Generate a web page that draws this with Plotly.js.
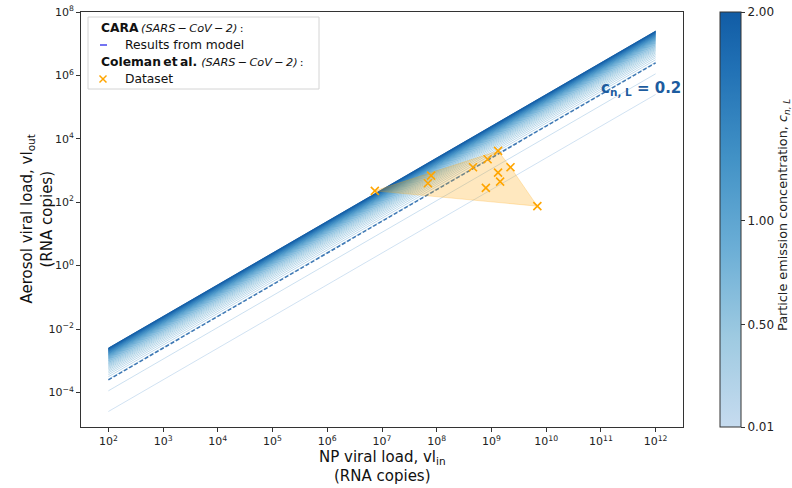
<!DOCTYPE html>
<html>
<head>
<meta charset="utf-8">
<script src="https://cdn.plot.ly/plotly-3.0.1.min.js"></script>
<style>html,body{margin:0;padding:0;background:#fff;}#chart{width:792px;height:488px;}</style>
</head>
<body>
<div id="chart"></div>
<script>
// ---- data ----
// NP viral load range of the model lines (RNA copies)
const npLoadRange = [1e2, 1e12];
// particle emission concentrations drawn as model lines
const cnLValues = [0.02, 0.09, 0.21, 0.25, 0.29, 0.33, 0.37, 0.41, 0.45, 0.49, 0.53, 0.57, 0.61, 0.65,
  0.69, 0.73, 0.77, 0.81, 0.85, 0.89, 0.93, 0.97, 1.01, 1.05, 1.09, 1.13, 1.17, 1.21, 1.25, 1.29,
  1.33, 1.37, 1.41, 1.45, 1.49, 1.53, 1.57, 1.61, 1.65, 1.69, 1.73, 1.77, 1.81, 1.85, 1.89, 1.93, 1.97, 2.0];
const cnLHighlight = 0.2;
// aerosol copies per NP copy per unit c_n,L (model constant)
const modelFactor = 1.25e-5;
// Coleman et al. dataset
const colemanNP = [7.4e6, 7.9e7, 6.9e7, 4.6e8, 8.5e8, 1.32e9, 2.23e9, 1.32e9, 1.44e9, 7.9e8, 6.9e9];
const colemanAerosol = [228, 690, 398, 1270, 2270, 4150, 1270, 860, 447, 283, 75];
// tick labels
const xTickVals = [1e2, 1e3, 1e4, 1e5, 1e6, 1e7, 1e8, 1e9, 1e10, 1e11, 1e12];
const xTickText = ['10<sup>2</sup>', '10<sup>3</sup>', '10<sup>4</sup>', '10<sup>5</sup>', '10<sup>6</sup>', '10<sup>7</sup>', '10<sup>8</sup>', '10<sup>9</sup>', '10<sup>10</sup>', '10<sup>11</sup>', '10<sup>12</sup>'];
const yTickVals = [1e-4, 1e-2, 1e0, 1e2, 1e4, 1e6, 1e8];
const yTickText = ['10<sup>\u22124</sup>', '10<sup>\u22122</sup>', '10<sup>0</sup>', '10<sup>2</sup>', '10<sup>4</sup>', '10<sup>6</sup>', '10<sup>8</sup>'];
const cbTickVals = [0.01, 0.5, 1.0, 2.0];
const cbTickText = ['0.01', '0.50', '1.00', '2.00'];

// ---- styling ----
const FONT = 'DejaVu Sans, sans-serif';
const cmin = 0.01, cmax = 2.0;
const stops = [
  [0, [198, 219, 239]],
  [0.2155, [158, 202, 225]],
  [0.431, [107, 174, 214]],
  [0.6466, [66, 146, 198]],
  [0.862, [33, 113, 181]],
  [1, [17, 92, 165]]
];
const colorscale = stops.map(s => [s[0], 'rgb(' + s[1].join(',') + ')']);
function colorFor(c) {
  let t = (c - cmin) / (cmax - cmin);
  t = Math.max(0, Math.min(1, t));
  for (let i = 1; i < stops.length; i++) {
    if (t <= stops[i][0]) {
      const a = stops[i - 1], b = stops[i];
      const f = (t - a[0]) / (b[0] - a[0]);
      const rgb = a[1].map((v, k) => Math.round(v + (b[1][k] - v) * f));
      return 'rgb(' + rgb.join(',') + ')';
    }
  }
  return 'rgb(' + stops[stops.length - 1][1].join(',') + ')';
}

const traces = [];
cnLValues.forEach(c => {
  traces.push({
    x: npLoadRange, y: npLoadRange.map(v => v * c * modelFactor),
    mode: 'lines', line: {color: colorFor(c), width: 0.8},
    showlegend: false, hoverinfo: 'skip'
  });
});
traces.push({
  x: npLoadRange, y: npLoadRange.map(v => v * cnLHighlight * modelFactor),
  mode: 'lines', line: {color: '#3f78b4', width: 1.5, dash: '4px,2px'},
  showlegend: false, hoverinfo: 'skip'
});

// convex hull of dataset (in log space)
function hull(xs, ys) {
  const pts = xs.map((x, i) => [Math.log10(x), Math.log10(ys[i]), i]).sort((a, b) => a[0] - b[0] || a[1] - b[1]);
  const cross = (o, a, b) => (a[0] - o[0]) * (b[1] - o[1]) - (a[1] - o[1]) * (b[0] - o[0]);
  const lower = [], upper = [];
  for (const p of pts) { while (lower.length >= 2 && cross(lower[lower.length - 2], lower[lower.length - 1], p) <= 0) lower.pop(); lower.push(p); }
  for (let i = pts.length - 1; i >= 0; i--) { const p = pts[i]; while (upper.length >= 2 && cross(upper[upper.length - 2], upper[upper.length - 1], p) <= 0) upper.pop(); upper.push(p); }
  upper.pop(); lower.pop();
  return lower.concat(upper).map(p => p[2]);
}
const h = hull(colemanNP, colemanAerosol);
h.push(h[0]);
traces.push({
  x: h.map(i => colemanNP[i]), y: h.map(i => colemanAerosol[i]),
  mode: 'lines', fill: 'toself', fillcolor: 'rgba(255,165,0,0.25)',
  line: {color: 'rgba(255,165,0,0.3)', width: 0.8},
  showlegend: false, hoverinfo: 'skip'
});
traces.push({
  x: colemanNP, y: colemanAerosol, mode: 'markers',
  marker: {symbol: 'x-thin', size: 8, color: '#FFA500', line: {color: '#FFA500', width: 1.6}},
  showlegend: false
});
// colorbar carrier
traces.push({
  x: cnLValues.map(() => npLoadRange[0]), y: cnLValues.map(c => npLoadRange[0] * c * modelFactor),
  mode: 'markers', hoverinfo: 'skip', showlegend: false,
  marker: {
    size: 0.1, opacity: 0, color: cnLValues, colorscale: colorscale, cmin: cmin, cmax: cmax, showscale: true,
    colorbar: {
      x: 1.0615, xanchor: 'left', xpad: 0, y: 0.5, yanchor: 'middle', ypad: 0,
      len: 1, lenmode: 'fraction', thickness: 21, thicknessmode: 'pixels',
      outlinewidth: 1, outlinecolor: '#333',
      tickmode: 'array', tickvals: cbTickVals, ticktext: cbTickText,
      ticks: 'outside', ticklen: 4, tickcolor: '#333',
      tickfont: {family: FONT, size: 12, color: '#222'}
    }
  }
});

function px(x) { return (x - 81) / 602; }
function py(y) { return (427 - y) / 415; }
const annFont = {family: FONT, size: 12.3, color: '#111'};
const titleFont = {family: FONT, size: 15, color: '#111'};
const T = '\u2009';
const virus = '<span style="font-size:11.3px"><i>(SARS' + T + '\u2212' + T + 'CoV' + T + '\u2212' + T + '2)</i>' + T + ':</span>';
const annotations = [
  {xref: 'paper', yref: 'paper', x: px(99), y: py(28), xanchor: 'left', yanchor: 'middle', showarrow: false,
   text: '<b>CARA</b>' + T + virus, font: annFont},
  {xref: 'paper', yref: 'paper', x: px(123), y: py(45), xanchor: 'left', yanchor: 'middle', showarrow: false,
   text: 'Results from model', font: annFont},
  {xref: 'paper', yref: 'paper', x: px(99), y: py(62), xanchor: 'left', yanchor: 'middle', showarrow: false,
   text: '<b>Coleman' + T + 'et' + T + 'al.</b> ' + virus, font: annFont},
  {xref: 'paper', yref: 'paper', x: px(123), y: py(79), xanchor: 'left', yanchor: 'middle', showarrow: false,
   text: 'Dataset', font: annFont},
  {xref: 'paper', yref: 'paper', x: 1.0, y: py(88), xanchor: 'right', yanchor: 'middle', showarrow: false,
   text: '<b>c<sub>n, L</sub> = 0.2</b>', font: {family: FONT, size: 15, color: '#1d5c9f'}},
  // axis titles
  {xref: 'paper', yref: 'paper', x: 0.5, y: py(457), xanchor: 'center', yanchor: 'middle', showarrow: false,
   text: 'NP viral load, vl<sub>in</sub>', font: titleFont},
  {xref: 'paper', yref: 'paper', x: 0.5, y: py(476), xanchor: 'center', yanchor: 'middle', showarrow: false,
   text: '(RNA copies)', font: titleFont},
  {xref: 'paper', yref: 'paper', x: px(27), y: 0.5, xanchor: 'center', yanchor: 'middle', showarrow: false,
   textangle: -90, text: 'Aerosol viral load, vl<sub>out</sub>', font: titleFont},
  {xref: 'paper', yref: 'paper', x: px(46), y: 0.5, xanchor: 'center', yanchor: 'middle', showarrow: false,
   textangle: -90, text: '(RNA copies)', font: titleFont},
  {xref: 'paper', yref: 'paper', x: px(783), y: py(215), xanchor: 'center', yanchor: 'middle', showarrow: false,
   textangle: -90, text: 'Particle emission concentration, <i>c<sub>n, L</sub></i>', font: {family: FONT, size: 12.8, color: '#222'}}
];
const shapes = [
  {type: 'rect', xref: 'paper', yref: 'paper', x0: px(88), x1: px(319), y0: py(89), y1: py(17),
   line: {color: '#d4d4d4', width: 1}, fillcolor: 'rgba(255,255,255,0.85)'},
  {type: 'line', xref: 'paper', yref: 'paper', x0: px(100), x1: px(107), y0: py(45), y1: py(45),
   line: {color: '#4646ee', width: 1.5}},
  {type: 'line', xref: 'paper', yref: 'paper', x0: px(99.5), x1: px(106.5), y0: py(75.5), y1: py(82.5),
   line: {color: '#FFA500', width: 1.5}},
  {type: 'line', xref: 'paper', yref: 'paper', x0: px(99.5), x1: px(106.5), y0: py(82.5), y1: py(75.5),
   line: {color: '#FFA500', width: 1.5}}
];

const axisCommon = {
  type: 'log', showgrid: false, zeroline: false, showline: true, mirror: true,
  linecolor: '#333', linewidth: 1, ticks: 'outside', ticklen: 4, tickcolor: '#333',
  tickfont: {family: FONT, size: 11, color: '#222'}, tickmode: 'array', automargin: false
};
const layout = {
  width: 792, height: 488,
  margin: {l: 81, r: 109, t: 12, b: 61, autoexpand: false},
  paper_bgcolor: '#fff', plot_bgcolor: '#fff',
  font: {family: FONT},
  showlegend: false,
  xaxis: Object.assign({}, axisCommon, {range: [1.5, 12.5], tickvals: xTickVals, ticktext: xTickText}),
  yaxis: Object.assign({}, axisCommon, {range: [-5.09, 8.0], tickvals: yTickVals, ticktext: yTickText}),
  annotations: annotations,
  shapes: shapes
};
Plotly.newPlot('chart', traces, layout, {staticPlot: true, displayModeBar: false});
</script>
</body>
</html>
